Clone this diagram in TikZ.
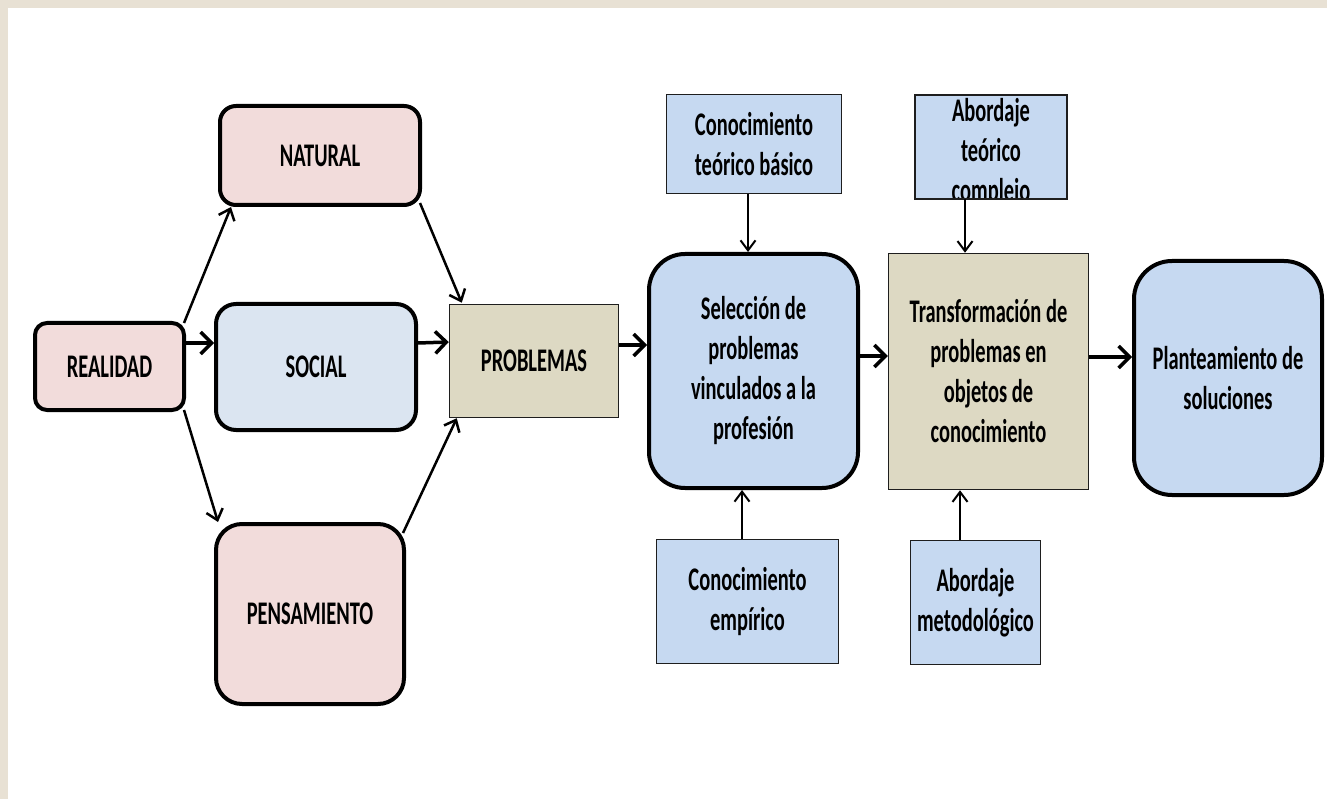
\documentclass[tikz,border=0pt]{standalone}
\usepackage{fontspec}
\setmainfont{Carlito}[FakeStretch=0.62]
\usetikzlibrary{arrows.meta}

\definecolor{pinkfill}{RGB}{242,220,219}
\definecolor{socfill}{RGB}{219,229,241}
\definecolor{bluefill}{RGB}{198,217,241}
\definecolor{tanfill}{RGB}{221,217,195}
\definecolor{paper}{RGB}{232,225,212}
\definecolor{edge}{RGB}{30,30,30}

\tikzset{
  roundbox/.style={draw=black, line width=4pt, rounded corners=#1,
    align=center, inner sep=0pt},
  roundbox/.default=16pt,
  plainbox/.style={draw=edge, line width=1.5pt, align=center, inner sep=0pt},
  bigarrow/.style={-{Straight Barb[length=11pt,width=22pt,line width=3.5pt]}, line width=3.5pt},
  diagarrow/.style={-{Straight Barb[length=10pt,width=17pt,line width=2.5pt]}, line width=2.5pt},
  smallarrow/.style={-{Straight Barb[length=10pt,width=15pt,line width=2pt]}, line width=2pt},
}

\begin{document}
\begin{tikzpicture}[x=1pt,y=-1pt,font=\fontsize{33}{40}\selectfont\bfseries]
% sheet on a textured paper border
\fill[paper] (0,0) rectangle (1327,799);
\fill[white] (8,8) rectangle (1327,799);
\useasboundingbox (0,0) rectangle (1327,799);

% left part: reality and its three fields
\node[roundbox=12pt, fill=pinkfill, minimum width=149pt, minimum height=87pt] (real) at (109.5,366.5) {REALIDAD};
\node[roundbox=16pt, fill=pinkfill, minimum width=200pt, minimum height=99pt] (nat) at (320,155.5) {NATURAL};
\node[roundbox=20pt, fill=socfill, minimum width=200pt, minimum height=126pt] (soc) at (316,367) {SOCIAL};
\node[roundbox=26pt, fill=pinkfill, minimum width=188pt, minimum height=180pt] (pens) at (310,614) {PENSAMIENTO};
\node[plainbox, fill=tanfill, minimum width=169pt, minimum height=113pt] (prob) at (534,361) {PROBLEMAS};

% central process
\node[roundbox=36pt, fill=bluefill, minimum width=209pt, minimum height=234pt] (sel) at (753.5,371) {Selección de\\problemas\\vinculados a la\\profesión};
\node[plainbox, fill=bluefill, minimum width=175pt, minimum height=99pt] (ct) at (754,144) {Conocimiento\\teórico básico};
\node[plainbox, fill=bluefill, minimum width=182pt, minimum height=124pt] (emp) at (747.5,601.5) {Conocimiento\\empírico};
\node[plainbox, fill=tanfill, minimum width=200pt, minimum height=236pt] (trans) at (988.5,371.5) {Transformación de\\problemas en\\objetos de\\conocimiento};
\node[plainbox, fill=bluefill, minimum width=130pt, minimum height=124pt] (am) at (975.5,602.5) {Abordaje\\metodológico};
\node[roundbox=38pt, fill=bluefill, minimum width=188pt, minimum height=234pt] (plan) at (1228,378) {Planteamiento de\\soluciones};

% box whose text runs past its lower edge
\node[plainbox, fill=bluefill, minimum width=151pt, minimum height=103pt] (at) at (991,147) {};
\begin{scope}
  \clip (at.south west) rectangle (at.north east);
  \node[align=center, inner sep=0pt] (attext) at ([yshift=-6pt]at.center) {Abordaje\\teórico\\complejo};
\end{scope}
\draw[draw=edge, line width=1.5pt] (at.south west) rectangle (at.north east);

% connectors
\draw[diagarrow] ([xshift=-2pt,yshift=-2pt]real.north east) -- ([xshift=13pt]nat.south west);
\draw[bigarrow] ([yshift=23.5pt]real.east) -- ([yshift=24pt]soc.west);
\draw[diagarrow] ([xshift=-2pt,yshift=2pt]real.south east) -- ([xshift=4pt]pens.north west);
\draw[diagarrow] ([xshift=-2pt,yshift=4pt]nat.south east) -- ([xshift=13pt,yshift=1pt]prob.north west);
\draw[bigarrow] ([yshift=24pt]soc.east) -- ([yshift=19pt]prob.west);
\draw[diagarrow] ([xshift=-3pt,yshift=-11pt]pens.north east) -- ([xshift=8pt]prob.south west);
\draw[bigarrow] ([yshift=16pt]prob.east) -- ([yshift=26pt]sel.west);
\draw[smallarrow] ([xshift=-6pt]ct.south) -- ([xshift=-5.5pt]sel.north);
\draw[smallarrow] ([xshift=-5.5pt]emp.north) -- ([xshift=-11.5pt]sel.south);
\draw[bigarrow] ([yshift=15pt]sel.east) -- ([yshift=15.5pt]trans.west);
\draw[smallarrow] ([xshift=-26pt]at.south) -- ([xshift=-23.5pt]trans.north);
\draw[smallarrow] ([xshift=-15.5pt]am.north) -- ([xshift=-28.5pt]trans.south);
\draw[bigarrow] ([yshift=14.5pt]trans.east) -- ([yshift=21pt]plan.west);
\end{tikzpicture}
\end{document}
